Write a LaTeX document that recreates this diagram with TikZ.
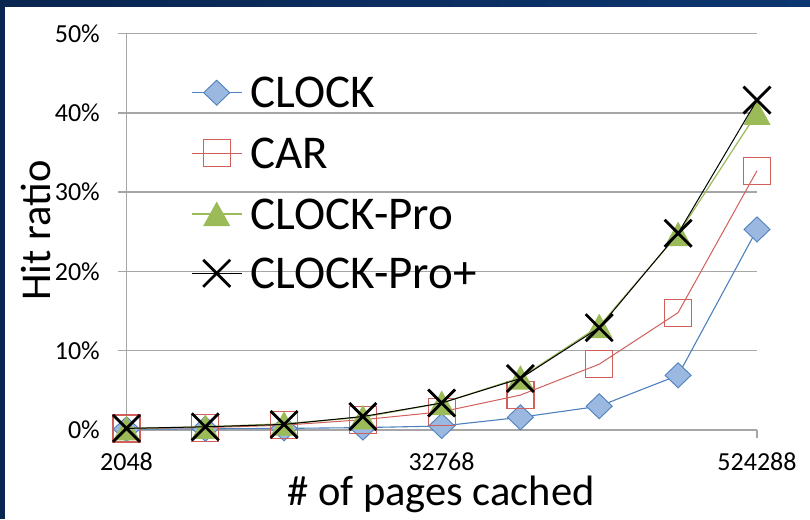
\documentclass[tikz,border=0pt]{standalone}
\usepackage{fontspec}
\setmainfont{Carlito}
\definecolor{frameA}{HTML}{0A2550}
\definecolor{frameB}{HTML}{0C3670}
\definecolor{gridgray}{HTML}{A6A6A6}
\definecolor{clockblue}{HTML}{4F81BD}
\definecolor{diamfill}{HTML}{9BB8E0}
\definecolor{carred}{HTML}{D0605C}
\definecolor{progreen}{HTML}{9BBB59}
\begin{document}
\begin{tikzpicture}[x=1pt,y=-1pt,
  grid/.style={draw=gridgray, line width=1.5pt},
  ticklab/.style={inner sep=0pt, font=\fontsize{26}{30}\selectfont},
  titlelab/.style={inner sep=0pt, font=\fontsize{42.5}{49}\selectfont},
  leglab/.style={inner sep=0pt, anchor=base west, font=\fontsize{47}{54}\selectfont},
  clockline/.style={draw=clockblue, line width=1.1pt},
  carline/.style={draw=carred, line width=1.0pt},
  proline/.style={draw=progreen, line width=1.2pt},
  plusline/.style={draw=black, line width=1.0pt},
  diam/.pic={\filldraw[draw=clockblue, fill=diamfill, line width=0.9pt] (-13,0)--(0,-12.5)--(13,0)--(0,12.5)--cycle;},
  sqr/.pic={\draw[draw=carred, line width=1.2pt] (-13.5,-13.5) rectangle (13.5,13.5);},
  tri/.pic={\fill[progreen] (-13.5,12)--(13.5,12)--(0,-12.5)--cycle;},
  crs/.pic={\draw[black, line width=2.8pt] (-13.5,-13.5)--(13.5,13.5) (-13.5,13.5)--(13.5,-13.5);}
]
\useasboundingbox (0,0) rectangle (810,519);
\fill[white] (0,0) rectangle (810,519);
\shade[left color=frameA, right color=frameB] (0,0) rectangle (810,7);
\fill[frameA] (0,0) rectangle (5,519);

% grid and axes
\foreach \y in {33.5,112.8,192.1,271.4,350.7}
  \draw[grid] (118,\y) -- (757,\y);
\draw[grid] (126.5,33.5) -- (126.5,438);
\draw[grid] (118,430) -- (757,430);
\foreach \x in {441.5,757}
  \draw[grid] (\x,430) -- (\x,438);

% tick labels
\foreach \y/\t [count=\i] in {33.5/50\%,112.8/40\%,192.1/30\%,271.4/20\%,350.7/10\%,430/0\%}
  \node[ticklab, anchor=east] (yl\i) at (100,\y) {\t};
\node[ticklab] (xl1) at (126.5,462) {2048};
\node[ticklab] (xl2) at (441.5,462) {32768};
\node[ticklab] (xl3) at (757,462) {524288};

% axis titles
\node[titlelab, anchor=base, text height=26pt] (xtitle) at (441,505) {\# of pages cached};
\node[titlelab, anchor=base, rotate=90] (ytitle) at (50,230.5) {Hit ratio};

% CLOCK
\draw[clockline] plot coordinates {(126.5,429.2) (205.3,428.8) (284.1,428.4) (362.9,427.6) (441.7,426.0) (520.4,417.3) (599.2,406.2) (678.1,375.3) (757,229.4)};
\foreach \x/\y in {126.5/429.2,205.3/428.8,284.1/428.4,362.9/427.6,441.7/426.0,520.4/417.3,599.2/406.2,678.1/375.3,757/229.4}
  \pic at (\x,\y) {diam};
% CAR
\draw[carline] plot coordinates {(126.5,428.4) (205.3,427.6) (284.1,425.2) (362.9,419.7) (441.7,411.8) (520.4,395.1) (599.2,364.2) (678.1,312.6) (757,170.7)};
\foreach \x/\y in {126.5/428.4,205.3/427.6,284.1/425.2,362.9/419.7,441.7/411.8,520.4/395.1,599.2/364.2,678.1/312.6,757/170.7}
  \pic at (\x,\y) {sqr};
% CLOCK-Pro
\draw[proline] plot coordinates {(126.5,428.4) (205.3,426.8) (284.1,423.7) (362.9,417.3) (441.7,403.0) (520.4,377.7) (599.2,326.1) (678.1,234.1) (757,112.8)};
\foreach \x/\y in {126.5/428.4,205.3/426.8,284.1/423.7,362.9/417.3,441.7/403.0,520.4/377.7,599.2/326.1,678.1/234.1,757/112.8}
  \pic at (\x,\y) {tri};
% CLOCK-Pro+
\draw[plusline] plot coordinates {(126.5,428.4) (205.3,426.8) (284.1,424.4) (362.9,416.5) (441.7,403.0) (520.4,378.5) (599.2,327.7) (678.1,233.3) (757,100.1)};
\foreach \x/\y in {126.5/428.4,205.3/426.8,284.1/424.4,362.9/416.5,441.7/403.0,520.4/378.5,599.2/327.7,678.1/233.3,757/100.1}
  \pic at (\x,\y) {crs};

% legend
\draw[clockline] (192,92.7) -- (242,92.7);
\pic at (216.7,92.7) {diam};
\node[leglab] (lg1) at (250.5,107.7) {CLOCK};
\draw[carline] (192,153.3) -- (242,153.3);
\pic at (216.7,153.3) {sqr};
\node[leglab] (lg2) at (250.5,168.3) {CAR};
\draw[proline] (192,214) -- (242,214);
\pic at (216.7,214) {tri};
\node[leglab] (lg3) at (250.5,229) {CLOCK-Pro};
\draw[plusline] (192,273.3) -- (242,273.3);
\pic at (216.7,273.3) {crs};
\node[leglab] (lg4) at (250.5,288.3) {CLOCK-Pro+};
\end{tikzpicture}
\end{document}
